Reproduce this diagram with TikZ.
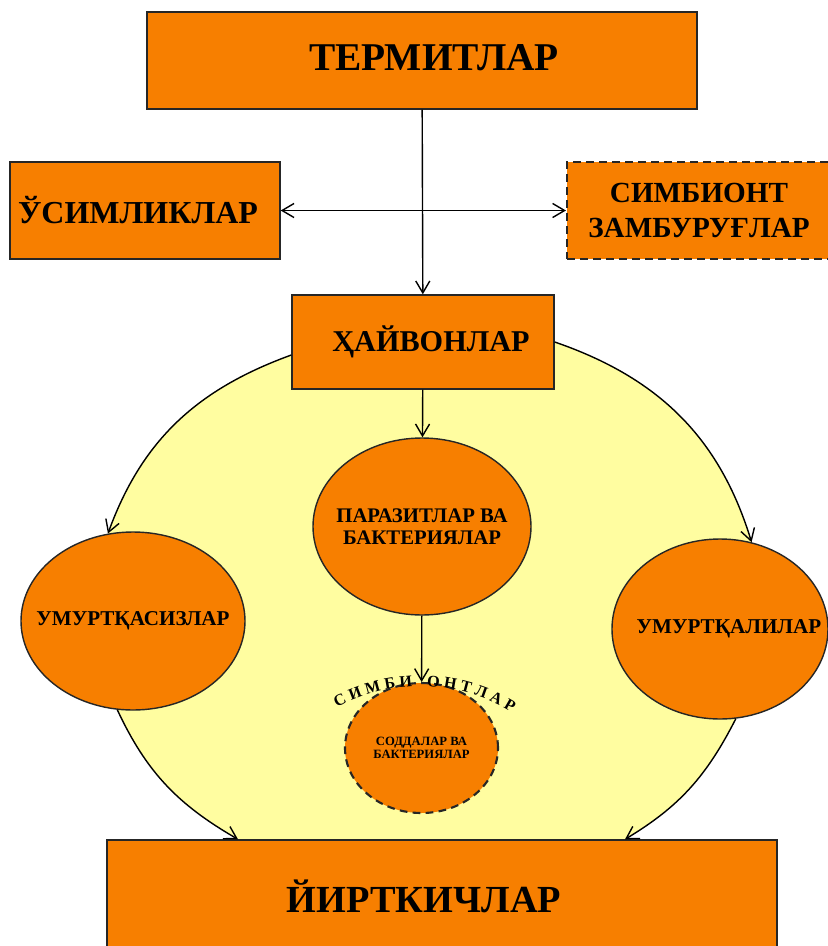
\documentclass[tikz,border=0pt]{standalone}
\usepackage{fontspec}
\setmainfont{Liberation Serif}
\usetikzlibrary{shapes.geometric,arrows.meta,backgrounds,decorations.text}

\definecolor{termorange}{RGB}{247,127,0}
\definecolor{paleyellow}{RGB}{255,253,160}
\newcommand{\bsz}[2]{\bfseries\fontsize{#1}{#2}\selectfont}

\begin{document}
\begin{tikzpicture}[>={Straight Barb[length=3.4pt,width=4pt]},thin,
  box/.style={draw=black!85,fill=termorange,inner sep=0pt,align=center},
  oval/.style={ellipse,draw=black!85,fill=termorange,inner sep=0pt},
  dashborder/.style={dash pattern=on 2.2pt off 1.5pt,line width=.6pt}]
  \useasboundingbox (0,0) rectangle (8.27,-9.46);

  \node[box,minimum width=5.5cm,minimum height=.97cm,
    label={[font=\bsz{11.2}{13},xshift=.12cm,yshift=.03cm]center:ТЕРМИТЛАР}] (term) at (4.22,-.605) {};
  \node[box,minimum width=2.7cm,minimum height=.97cm,
    label={[font=\bsz{9.1}{11},xshift=-.07cm]center:ЎСИМЛИКЛАР}] (usim) at (1.45,-2.105) {};
  \node[box,dashborder,minimum width=2.64cm,minimum height=.97cm,font=\bsz{8.3}{10}] (simb) at (6.99,-2.105) {СИМБИОНТ\\ЗАМБУРУҒЛАР};
  \node[box,minimum width=2.62cm,minimum height=.94cm,
    label={[font=\bsz{8.6}{10},xshift=.08cm]center:ҲАЙВОНЛАР}] (hayv) at (4.23,-3.42) {};
  \node[box,minimum width=6.7cm,minimum height=1.2cm,
    label={[font=\bsz{10.9}{13},xshift=-.18cm,yshift=.04cm]center:ЙИРТКИЧЛАР}] (yirt) at (4.42,-9.0) {};

  \node[oval,minimum width=2.18cm,minimum height=1.77cm,
    label={[font=\bsz{5.9}{6.2},align=center]center:ПАРАЗИТЛАР ВА\\БАКТЕРИЯЛАР}] (para) at (4.22,-5.265) {};
  \node[oval,minimum width=2.24cm,minimum height=1.78cm,
    label={[font=\bsz{6}{7}]center:УМУРТҚАСИЗЛАР}] (umsiz) at (1.33,-6.21) {};
  \node[oval,minimum width=2.16cm,minimum height=1.8cm,
    label={[font=\bsz{6}{7},xshift=.09cm]center:УМУРТҚАЛИЛАР}] (umli) at (7.2,-6.29) {};
  \node[oval,dashborder,minimum width=1.53cm,minimum height=1.3cm,
    label={[font=\bsz{3.6}{3.8},align=center]center:СОДДАЛАР ВА\\БАКТЕРИЯЛАР}] (sodd) at (4.215,-7.48) {};

  % yellow zone behind the animals
  \begin{pgfonlayer}{background}
    \fill[paleyellow] ([yshift=-.13cm]hayv.west) to[out=200,in=70] (umsiz.106) -- (umsiz.260)
      to[out=295,in=150] ([xshift=-2.04cm]yirt.north) -- ([xshift=1.83cm]yirt.north)
      to[out=31,in=243] (umli.280) -- (umli.70) to[out=107,in=-19] (hayv.east) -- cycle;
  \end{pgfonlayer}

  \draw[->] (term) -- (hayv);
  \draw[<->] (usim) -- (simb);
  \draw[->] (hayv) -- (para);
  \draw[->] (para) -- (sodd);
  \draw[->] ([yshift=-.13cm]hayv.west) to[out=200,in=70] (umsiz.106);
  \draw[->] (umsiz.260) to[out=295,in=150] ([xshift=-2.04cm]yirt.north);
  \draw[->] (hayv.east) to[out=-19,in=107] (umli.70);
  \draw[->] (umli.280) to[out=243,in=31] ([xshift=1.83cm]yirt.north);

  % curved label over the symbionts
  \path[decorate,decoration={text along path,text align=center,text={|\bsz{4.6}{5}|С И М Б И}}]
    (4.2,-8.6) ++(117:1.74) arc[start angle=117,end angle=94,radius=1.74];
  \path[decorate,decoration={text along path,text align=center,text={|\bsz{4.6}{5}|О Н Т Л А Р}}]
    (4.2,-8.6) ++(88:1.74) arc[start angle=88,end angle=58,radius=1.74];
\end{tikzpicture}
\end{document}
